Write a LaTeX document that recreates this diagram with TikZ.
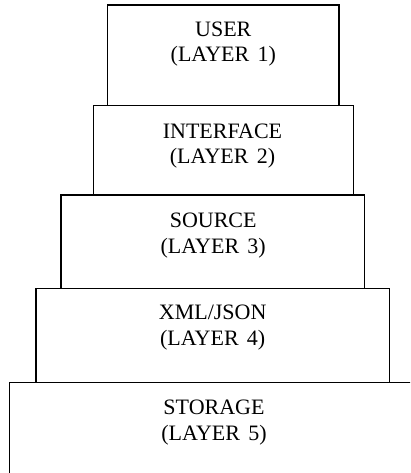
\documentclass[tikz,border=0pt]{standalone}
\usepackage{fontspec}
\setmainfont{Liberation Serif}[WordSpace=1.5]
\begin{document}
\begin{tikzpicture}[x=1pt,y=-1pt,
  layerbox/.style={draw=black, line width=1.5pt},
  lbl/.style={font=\fontsize{22}{25}\selectfont, anchor=base, inner sep=0pt}]
\useasboundingbox (0,0) rectangle (410,473);
\clip (0,0) rectangle (410,473);
% stacked layers, widest at the bottom
\draw[layerbox] (9.3,382.7) rectangle (418,480);
\draw[layerbox] (36,288.3) rectangle (389.3,382.7);
\draw[layerbox] (61,195) rectangle (364.3,288.3);
\draw[layerbox] (93.3,105.7) rectangle (353.3,195);
\draw[layerbox] (107.7,5) rectangle (339,105.7);
% labels
\node[lbl] (l1a) at (223.3,36.5) {USER};
\node[lbl] (l1b) at (223.3,62) {(LAYER 1)};
\node[lbl] (l2a) at (222.5,138.3) {INTERFACE};
\node[lbl] (l2b) at (222.5,164) {(LAYER 2)};
\node[lbl] (l3a) at (213.2,227.7) {SOURCE};
\node[lbl] (l3b) at (213.2,253.3) {(LAYER 3)};
\node[lbl] (l4a) at (212.7,319.5) {XML/JSON};
\node[lbl] (l4b) at (212.7,345) {(LAYER 4)};
\node[lbl] (l5a) at (214,414.5) {STORAGE};
\node[lbl] (l5b) at (214,440) {(LAYER 5)};
\end{tikzpicture}
\end{document}
